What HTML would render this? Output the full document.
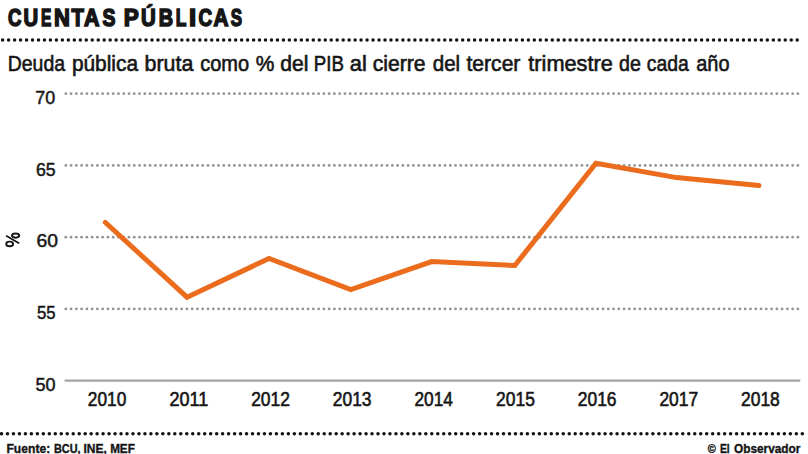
<!DOCTYPE html>
<html><head><meta charset="utf-8">
<style>
html,body{margin:0;padding:0;background:#fff;}
body{width:808px;height:454px;overflow:hidden;position:relative;}
svg{position:absolute;left:0;top:0;}
text{font-family:"Liberation Sans",sans-serif;fill:#161616;stroke:#161616;}
</style></head><body>
<svg width="808" height="454" viewBox="0 0 808 454">
<g fill="#121212"><circle cx="2.64" cy="39.9" r="1.75"/><circle cx="8.61" cy="39.9" r="1.75"/><circle cx="14.59" cy="39.9" r="1.75"/><circle cx="20.56" cy="39.9" r="1.75"/><circle cx="26.54" cy="39.9" r="1.75"/><circle cx="32.51" cy="39.9" r="1.75"/><circle cx="38.48" cy="39.9" r="1.75"/><circle cx="44.46" cy="39.9" r="1.75"/><circle cx="50.43" cy="39.9" r="1.75"/><circle cx="56.41" cy="39.9" r="1.75"/><circle cx="62.38" cy="39.9" r="1.75"/><circle cx="68.36" cy="39.9" r="1.75"/><circle cx="74.33" cy="39.9" r="1.75"/><circle cx="80.30" cy="39.9" r="1.75"/><circle cx="86.28" cy="39.9" r="1.75"/><circle cx="92.25" cy="39.9" r="1.75"/><circle cx="98.23" cy="39.9" r="1.75"/><circle cx="104.20" cy="39.9" r="1.75"/><circle cx="110.17" cy="39.9" r="1.75"/><circle cx="116.15" cy="39.9" r="1.75"/><circle cx="122.12" cy="39.9" r="1.75"/><circle cx="128.10" cy="39.9" r="1.75"/><circle cx="134.07" cy="39.9" r="1.75"/><circle cx="140.05" cy="39.9" r="1.75"/><circle cx="146.02" cy="39.9" r="1.75"/><circle cx="151.99" cy="39.9" r="1.75"/><circle cx="157.97" cy="39.9" r="1.75"/><circle cx="163.94" cy="39.9" r="1.75"/><circle cx="169.92" cy="39.9" r="1.75"/><circle cx="175.89" cy="39.9" r="1.75"/><circle cx="181.86" cy="39.9" r="1.75"/><circle cx="187.84" cy="39.9" r="1.75"/><circle cx="193.81" cy="39.9" r="1.75"/><circle cx="199.79" cy="39.9" r="1.75"/><circle cx="205.76" cy="39.9" r="1.75"/><circle cx="211.73" cy="39.9" r="1.75"/><circle cx="217.71" cy="39.9" r="1.75"/><circle cx="223.68" cy="39.9" r="1.75"/><circle cx="229.66" cy="39.9" r="1.75"/><circle cx="235.63" cy="39.9" r="1.75"/><circle cx="241.61" cy="39.9" r="1.75"/><circle cx="247.58" cy="39.9" r="1.75"/><circle cx="253.55" cy="39.9" r="1.75"/><circle cx="259.53" cy="39.9" r="1.75"/><circle cx="265.50" cy="39.9" r="1.75"/><circle cx="271.48" cy="39.9" r="1.75"/><circle cx="277.45" cy="39.9" r="1.75"/><circle cx="283.42" cy="39.9" r="1.75"/><circle cx="289.40" cy="39.9" r="1.75"/><circle cx="295.37" cy="39.9" r="1.75"/><circle cx="301.35" cy="39.9" r="1.75"/><circle cx="307.32" cy="39.9" r="1.75"/><circle cx="313.30" cy="39.9" r="1.75"/><circle cx="319.27" cy="39.9" r="1.75"/><circle cx="325.24" cy="39.9" r="1.75"/><circle cx="331.22" cy="39.9" r="1.75"/><circle cx="337.19" cy="39.9" r="1.75"/><circle cx="343.17" cy="39.9" r="1.75"/><circle cx="349.14" cy="39.9" r="1.75"/><circle cx="355.11" cy="39.9" r="1.75"/><circle cx="361.09" cy="39.9" r="1.75"/><circle cx="367.06" cy="39.9" r="1.75"/><circle cx="373.04" cy="39.9" r="1.75"/><circle cx="379.01" cy="39.9" r="1.75"/><circle cx="384.98" cy="39.9" r="1.75"/><circle cx="390.96" cy="39.9" r="1.75"/><circle cx="396.93" cy="39.9" r="1.75"/><circle cx="402.91" cy="39.9" r="1.75"/><circle cx="408.88" cy="39.9" r="1.75"/><circle cx="414.86" cy="39.9" r="1.75"/><circle cx="420.83" cy="39.9" r="1.75"/><circle cx="426.80" cy="39.9" r="1.75"/><circle cx="432.78" cy="39.9" r="1.75"/><circle cx="438.75" cy="39.9" r="1.75"/><circle cx="444.73" cy="39.9" r="1.75"/><circle cx="450.70" cy="39.9" r="1.75"/><circle cx="456.67" cy="39.9" r="1.75"/><circle cx="462.65" cy="39.9" r="1.75"/><circle cx="468.62" cy="39.9" r="1.75"/><circle cx="474.60" cy="39.9" r="1.75"/><circle cx="480.57" cy="39.9" r="1.75"/><circle cx="486.54" cy="39.9" r="1.75"/><circle cx="492.52" cy="39.9" r="1.75"/><circle cx="498.49" cy="39.9" r="1.75"/><circle cx="504.47" cy="39.9" r="1.75"/><circle cx="510.44" cy="39.9" r="1.75"/><circle cx="516.42" cy="39.9" r="1.75"/><circle cx="522.39" cy="39.9" r="1.75"/><circle cx="528.36" cy="39.9" r="1.75"/><circle cx="534.34" cy="39.9" r="1.75"/><circle cx="540.31" cy="39.9" r="1.75"/><circle cx="546.29" cy="39.9" r="1.75"/><circle cx="552.26" cy="39.9" r="1.75"/><circle cx="558.23" cy="39.9" r="1.75"/><circle cx="564.21" cy="39.9" r="1.75"/><circle cx="570.18" cy="39.9" r="1.75"/><circle cx="576.16" cy="39.9" r="1.75"/><circle cx="582.13" cy="39.9" r="1.75"/><circle cx="588.11" cy="39.9" r="1.75"/><circle cx="594.08" cy="39.9" r="1.75"/><circle cx="600.05" cy="39.9" r="1.75"/><circle cx="606.03" cy="39.9" r="1.75"/><circle cx="612.00" cy="39.9" r="1.75"/><circle cx="617.98" cy="39.9" r="1.75"/><circle cx="623.95" cy="39.9" r="1.75"/><circle cx="629.92" cy="39.9" r="1.75"/><circle cx="635.90" cy="39.9" r="1.75"/><circle cx="641.87" cy="39.9" r="1.75"/><circle cx="647.85" cy="39.9" r="1.75"/><circle cx="653.82" cy="39.9" r="1.75"/><circle cx="659.79" cy="39.9" r="1.75"/><circle cx="665.77" cy="39.9" r="1.75"/><circle cx="671.74" cy="39.9" r="1.75"/><circle cx="677.72" cy="39.9" r="1.75"/><circle cx="683.69" cy="39.9" r="1.75"/><circle cx="689.67" cy="39.9" r="1.75"/><circle cx="695.64" cy="39.9" r="1.75"/><circle cx="701.61" cy="39.9" r="1.75"/><circle cx="707.59" cy="39.9" r="1.75"/><circle cx="713.56" cy="39.9" r="1.75"/><circle cx="719.54" cy="39.9" r="1.75"/><circle cx="725.51" cy="39.9" r="1.75"/><circle cx="731.48" cy="39.9" r="1.75"/><circle cx="737.46" cy="39.9" r="1.75"/><circle cx="743.43" cy="39.9" r="1.75"/><circle cx="749.41" cy="39.9" r="1.75"/><circle cx="755.38" cy="39.9" r="1.75"/><circle cx="761.36" cy="39.9" r="1.75"/><circle cx="767.33" cy="39.9" r="1.75"/><circle cx="773.30" cy="39.9" r="1.75"/><circle cx="779.28" cy="39.9" r="1.75"/><circle cx="785.25" cy="39.9" r="1.75"/><circle cx="791.23" cy="39.9" r="1.75"/><circle cx="797.20" cy="39.9" r="1.75"/><circle cx="1.50" cy="433.7" r="1.75"/><circle cx="7.48" cy="433.7" r="1.75"/><circle cx="13.45" cy="433.7" r="1.75"/><circle cx="19.43" cy="433.7" r="1.75"/><circle cx="25.40" cy="433.7" r="1.75"/><circle cx="31.38" cy="433.7" r="1.75"/><circle cx="37.36" cy="433.7" r="1.75"/><circle cx="43.33" cy="433.7" r="1.75"/><circle cx="49.31" cy="433.7" r="1.75"/><circle cx="55.29" cy="433.7" r="1.75"/><circle cx="61.26" cy="433.7" r="1.75"/><circle cx="67.24" cy="433.7" r="1.75"/><circle cx="73.21" cy="433.7" r="1.75"/><circle cx="79.19" cy="433.7" r="1.75"/><circle cx="85.17" cy="433.7" r="1.75"/><circle cx="91.14" cy="433.7" r="1.75"/><circle cx="97.12" cy="433.7" r="1.75"/><circle cx="103.09" cy="433.7" r="1.75"/><circle cx="109.07" cy="433.7" r="1.75"/><circle cx="115.05" cy="433.7" r="1.75"/><circle cx="121.02" cy="433.7" r="1.75"/><circle cx="127.00" cy="433.7" r="1.75"/><circle cx="132.97" cy="433.7" r="1.75"/><circle cx="138.95" cy="433.7" r="1.75"/><circle cx="144.93" cy="433.7" r="1.75"/><circle cx="150.90" cy="433.7" r="1.75"/><circle cx="156.88" cy="433.7" r="1.75"/><circle cx="162.86" cy="433.7" r="1.75"/><circle cx="168.83" cy="433.7" r="1.75"/><circle cx="174.81" cy="433.7" r="1.75"/><circle cx="180.78" cy="433.7" r="1.75"/><circle cx="186.76" cy="433.7" r="1.75"/><circle cx="192.74" cy="433.7" r="1.75"/><circle cx="198.71" cy="433.7" r="1.75"/><circle cx="204.69" cy="433.7" r="1.75"/><circle cx="210.66" cy="433.7" r="1.75"/><circle cx="216.64" cy="433.7" r="1.75"/><circle cx="222.62" cy="433.7" r="1.75"/><circle cx="228.59" cy="433.7" r="1.75"/><circle cx="234.57" cy="433.7" r="1.75"/><circle cx="240.54" cy="433.7" r="1.75"/><circle cx="246.52" cy="433.7" r="1.75"/><circle cx="252.50" cy="433.7" r="1.75"/><circle cx="258.47" cy="433.7" r="1.75"/><circle cx="264.45" cy="433.7" r="1.75"/><circle cx="270.43" cy="433.7" r="1.75"/><circle cx="276.40" cy="433.7" r="1.75"/><circle cx="282.38" cy="433.7" r="1.75"/><circle cx="288.35" cy="433.7" r="1.75"/><circle cx="294.33" cy="433.7" r="1.75"/><circle cx="300.31" cy="433.7" r="1.75"/><circle cx="306.28" cy="433.7" r="1.75"/><circle cx="312.26" cy="433.7" r="1.75"/><circle cx="318.23" cy="433.7" r="1.75"/><circle cx="324.21" cy="433.7" r="1.75"/><circle cx="330.19" cy="433.7" r="1.75"/><circle cx="336.16" cy="433.7" r="1.75"/><circle cx="342.14" cy="433.7" r="1.75"/><circle cx="348.11" cy="433.7" r="1.75"/><circle cx="354.09" cy="433.7" r="1.75"/><circle cx="360.07" cy="433.7" r="1.75"/><circle cx="366.04" cy="433.7" r="1.75"/><circle cx="372.02" cy="433.7" r="1.75"/><circle cx="378.00" cy="433.7" r="1.75"/><circle cx="383.97" cy="433.7" r="1.75"/><circle cx="389.95" cy="433.7" r="1.75"/><circle cx="395.92" cy="433.7" r="1.75"/><circle cx="401.90" cy="433.7" r="1.75"/><circle cx="407.88" cy="433.7" r="1.75"/><circle cx="413.85" cy="433.7" r="1.75"/><circle cx="419.83" cy="433.7" r="1.75"/><circle cx="425.80" cy="433.7" r="1.75"/><circle cx="431.78" cy="433.7" r="1.75"/><circle cx="437.76" cy="433.7" r="1.75"/><circle cx="443.73" cy="433.7" r="1.75"/><circle cx="449.71" cy="433.7" r="1.75"/><circle cx="455.69" cy="433.7" r="1.75"/><circle cx="461.66" cy="433.7" r="1.75"/><circle cx="467.64" cy="433.7" r="1.75"/><circle cx="473.61" cy="433.7" r="1.75"/><circle cx="479.59" cy="433.7" r="1.75"/><circle cx="485.57" cy="433.7" r="1.75"/><circle cx="491.54" cy="433.7" r="1.75"/><circle cx="497.52" cy="433.7" r="1.75"/><circle cx="503.49" cy="433.7" r="1.75"/><circle cx="509.47" cy="433.7" r="1.75"/><circle cx="515.45" cy="433.7" r="1.75"/><circle cx="521.42" cy="433.7" r="1.75"/><circle cx="527.40" cy="433.7" r="1.75"/><circle cx="533.37" cy="433.7" r="1.75"/><circle cx="539.35" cy="433.7" r="1.75"/><circle cx="545.33" cy="433.7" r="1.75"/><circle cx="551.30" cy="433.7" r="1.75"/><circle cx="557.28" cy="433.7" r="1.75"/><circle cx="563.26" cy="433.7" r="1.75"/><circle cx="569.23" cy="433.7" r="1.75"/><circle cx="575.21" cy="433.7" r="1.75"/><circle cx="581.18" cy="433.7" r="1.75"/><circle cx="587.16" cy="433.7" r="1.75"/><circle cx="593.14" cy="433.7" r="1.75"/><circle cx="599.11" cy="433.7" r="1.75"/><circle cx="605.09" cy="433.7" r="1.75"/><circle cx="611.06" cy="433.7" r="1.75"/><circle cx="617.04" cy="433.7" r="1.75"/><circle cx="623.02" cy="433.7" r="1.75"/><circle cx="628.99" cy="433.7" r="1.75"/><circle cx="634.97" cy="433.7" r="1.75"/><circle cx="640.94" cy="433.7" r="1.75"/><circle cx="646.92" cy="433.7" r="1.75"/><circle cx="652.90" cy="433.7" r="1.75"/><circle cx="658.87" cy="433.7" r="1.75"/><circle cx="664.85" cy="433.7" r="1.75"/><circle cx="670.83" cy="433.7" r="1.75"/><circle cx="676.80" cy="433.7" r="1.75"/><circle cx="682.78" cy="433.7" r="1.75"/><circle cx="688.75" cy="433.7" r="1.75"/><circle cx="694.73" cy="433.7" r="1.75"/><circle cx="700.71" cy="433.7" r="1.75"/><circle cx="706.68" cy="433.7" r="1.75"/><circle cx="712.66" cy="433.7" r="1.75"/><circle cx="718.63" cy="433.7" r="1.75"/><circle cx="724.61" cy="433.7" r="1.75"/><circle cx="730.59" cy="433.7" r="1.75"/><circle cx="736.56" cy="433.7" r="1.75"/><circle cx="742.54" cy="433.7" r="1.75"/><circle cx="748.51" cy="433.7" r="1.75"/><circle cx="754.49" cy="433.7" r="1.75"/><circle cx="760.47" cy="433.7" r="1.75"/><circle cx="766.44" cy="433.7" r="1.75"/><circle cx="772.42" cy="433.7" r="1.75"/><circle cx="778.40" cy="433.7" r="1.75"/><circle cx="784.37" cy="433.7" r="1.75"/><circle cx="790.35" cy="433.7" r="1.75"/><circle cx="796.32" cy="433.7" r="1.75"/><circle cx="802.30" cy="433.7" r="1.75"/></g>
<g fill="#929292"><circle cx="65.80" cy="93.65" r="1.35"/><circle cx="71.07" cy="93.65" r="1.35"/><circle cx="76.33" cy="93.65" r="1.35"/><circle cx="81.60" cy="93.65" r="1.35"/><circle cx="86.87" cy="93.65" r="1.35"/><circle cx="92.13" cy="93.65" r="1.35"/><circle cx="97.40" cy="93.65" r="1.35"/><circle cx="102.67" cy="93.65" r="1.35"/><circle cx="107.94" cy="93.65" r="1.35"/><circle cx="113.20" cy="93.65" r="1.35"/><circle cx="118.47" cy="93.65" r="1.35"/><circle cx="123.74" cy="93.65" r="1.35"/><circle cx="129.00" cy="93.65" r="1.35"/><circle cx="134.27" cy="93.65" r="1.35"/><circle cx="139.54" cy="93.65" r="1.35"/><circle cx="144.80" cy="93.65" r="1.35"/><circle cx="150.07" cy="93.65" r="1.35"/><circle cx="155.34" cy="93.65" r="1.35"/><circle cx="160.60" cy="93.65" r="1.35"/><circle cx="165.87" cy="93.65" r="1.35"/><circle cx="171.14" cy="93.65" r="1.35"/><circle cx="176.41" cy="93.65" r="1.35"/><circle cx="181.67" cy="93.65" r="1.35"/><circle cx="186.94" cy="93.65" r="1.35"/><circle cx="192.21" cy="93.65" r="1.35"/><circle cx="197.47" cy="93.65" r="1.35"/><circle cx="202.74" cy="93.65" r="1.35"/><circle cx="208.01" cy="93.65" r="1.35"/><circle cx="213.27" cy="93.65" r="1.35"/><circle cx="218.54" cy="93.65" r="1.35"/><circle cx="223.81" cy="93.65" r="1.35"/><circle cx="229.07" cy="93.65" r="1.35"/><circle cx="234.34" cy="93.65" r="1.35"/><circle cx="239.61" cy="93.65" r="1.35"/><circle cx="244.87" cy="93.65" r="1.35"/><circle cx="250.14" cy="93.65" r="1.35"/><circle cx="255.41" cy="93.65" r="1.35"/><circle cx="260.68" cy="93.65" r="1.35"/><circle cx="265.94" cy="93.65" r="1.35"/><circle cx="271.21" cy="93.65" r="1.35"/><circle cx="276.48" cy="93.65" r="1.35"/><circle cx="281.74" cy="93.65" r="1.35"/><circle cx="287.01" cy="93.65" r="1.35"/><circle cx="292.28" cy="93.65" r="1.35"/><circle cx="297.54" cy="93.65" r="1.35"/><circle cx="302.81" cy="93.65" r="1.35"/><circle cx="308.08" cy="93.65" r="1.35"/><circle cx="313.34" cy="93.65" r="1.35"/><circle cx="318.61" cy="93.65" r="1.35"/><circle cx="323.88" cy="93.65" r="1.35"/><circle cx="329.15" cy="93.65" r="1.35"/><circle cx="334.41" cy="93.65" r="1.35"/><circle cx="339.68" cy="93.65" r="1.35"/><circle cx="344.95" cy="93.65" r="1.35"/><circle cx="350.21" cy="93.65" r="1.35"/><circle cx="355.48" cy="93.65" r="1.35"/><circle cx="360.75" cy="93.65" r="1.35"/><circle cx="366.01" cy="93.65" r="1.35"/><circle cx="371.28" cy="93.65" r="1.35"/><circle cx="376.55" cy="93.65" r="1.35"/><circle cx="381.81" cy="93.65" r="1.35"/><circle cx="387.08" cy="93.65" r="1.35"/><circle cx="392.35" cy="93.65" r="1.35"/><circle cx="397.62" cy="93.65" r="1.35"/><circle cx="402.88" cy="93.65" r="1.35"/><circle cx="408.15" cy="93.65" r="1.35"/><circle cx="413.42" cy="93.65" r="1.35"/><circle cx="418.68" cy="93.65" r="1.35"/><circle cx="423.95" cy="93.65" r="1.35"/><circle cx="429.22" cy="93.65" r="1.35"/><circle cx="434.48" cy="93.65" r="1.35"/><circle cx="439.75" cy="93.65" r="1.35"/><circle cx="445.02" cy="93.65" r="1.35"/><circle cx="450.28" cy="93.65" r="1.35"/><circle cx="455.55" cy="93.65" r="1.35"/><circle cx="460.82" cy="93.65" r="1.35"/><circle cx="466.08" cy="93.65" r="1.35"/><circle cx="471.35" cy="93.65" r="1.35"/><circle cx="476.62" cy="93.65" r="1.35"/><circle cx="481.89" cy="93.65" r="1.35"/><circle cx="487.15" cy="93.65" r="1.35"/><circle cx="492.42" cy="93.65" r="1.35"/><circle cx="497.69" cy="93.65" r="1.35"/><circle cx="502.95" cy="93.65" r="1.35"/><circle cx="508.22" cy="93.65" r="1.35"/><circle cx="513.49" cy="93.65" r="1.35"/><circle cx="518.75" cy="93.65" r="1.35"/><circle cx="524.02" cy="93.65" r="1.35"/><circle cx="529.29" cy="93.65" r="1.35"/><circle cx="534.55" cy="93.65" r="1.35"/><circle cx="539.82" cy="93.65" r="1.35"/><circle cx="545.09" cy="93.65" r="1.35"/><circle cx="550.36" cy="93.65" r="1.35"/><circle cx="555.62" cy="93.65" r="1.35"/><circle cx="560.89" cy="93.65" r="1.35"/><circle cx="566.16" cy="93.65" r="1.35"/><circle cx="571.42" cy="93.65" r="1.35"/><circle cx="576.69" cy="93.65" r="1.35"/><circle cx="581.96" cy="93.65" r="1.35"/><circle cx="587.22" cy="93.65" r="1.35"/><circle cx="592.49" cy="93.65" r="1.35"/><circle cx="597.76" cy="93.65" r="1.35"/><circle cx="603.02" cy="93.65" r="1.35"/><circle cx="608.29" cy="93.65" r="1.35"/><circle cx="613.56" cy="93.65" r="1.35"/><circle cx="618.83" cy="93.65" r="1.35"/><circle cx="624.09" cy="93.65" r="1.35"/><circle cx="629.36" cy="93.65" r="1.35"/><circle cx="634.63" cy="93.65" r="1.35"/><circle cx="639.89" cy="93.65" r="1.35"/><circle cx="645.16" cy="93.65" r="1.35"/><circle cx="650.43" cy="93.65" r="1.35"/><circle cx="655.69" cy="93.65" r="1.35"/><circle cx="660.96" cy="93.65" r="1.35"/><circle cx="666.23" cy="93.65" r="1.35"/><circle cx="671.49" cy="93.65" r="1.35"/><circle cx="676.76" cy="93.65" r="1.35"/><circle cx="682.03" cy="93.65" r="1.35"/><circle cx="687.29" cy="93.65" r="1.35"/><circle cx="692.56" cy="93.65" r="1.35"/><circle cx="697.83" cy="93.65" r="1.35"/><circle cx="703.10" cy="93.65" r="1.35"/><circle cx="708.36" cy="93.65" r="1.35"/><circle cx="713.63" cy="93.65" r="1.35"/><circle cx="718.90" cy="93.65" r="1.35"/><circle cx="724.16" cy="93.65" r="1.35"/><circle cx="729.43" cy="93.65" r="1.35"/><circle cx="734.70" cy="93.65" r="1.35"/><circle cx="739.96" cy="93.65" r="1.35"/><circle cx="745.23" cy="93.65" r="1.35"/><circle cx="750.50" cy="93.65" r="1.35"/><circle cx="755.76" cy="93.65" r="1.35"/><circle cx="761.03" cy="93.65" r="1.35"/><circle cx="766.30" cy="93.65" r="1.35"/><circle cx="771.57" cy="93.65" r="1.35"/><circle cx="776.83" cy="93.65" r="1.35"/><circle cx="782.10" cy="93.65" r="1.35"/><circle cx="787.37" cy="93.65" r="1.35"/><circle cx="792.63" cy="93.65" r="1.35"/><circle cx="797.90" cy="93.65" r="1.35"/><circle cx="65.80" cy="165.4" r="1.35"/><circle cx="71.07" cy="165.4" r="1.35"/><circle cx="76.33" cy="165.4" r="1.35"/><circle cx="81.60" cy="165.4" r="1.35"/><circle cx="86.87" cy="165.4" r="1.35"/><circle cx="92.13" cy="165.4" r="1.35"/><circle cx="97.40" cy="165.4" r="1.35"/><circle cx="102.67" cy="165.4" r="1.35"/><circle cx="107.94" cy="165.4" r="1.35"/><circle cx="113.20" cy="165.4" r="1.35"/><circle cx="118.47" cy="165.4" r="1.35"/><circle cx="123.74" cy="165.4" r="1.35"/><circle cx="129.00" cy="165.4" r="1.35"/><circle cx="134.27" cy="165.4" r="1.35"/><circle cx="139.54" cy="165.4" r="1.35"/><circle cx="144.80" cy="165.4" r="1.35"/><circle cx="150.07" cy="165.4" r="1.35"/><circle cx="155.34" cy="165.4" r="1.35"/><circle cx="160.60" cy="165.4" r="1.35"/><circle cx="165.87" cy="165.4" r="1.35"/><circle cx="171.14" cy="165.4" r="1.35"/><circle cx="176.41" cy="165.4" r="1.35"/><circle cx="181.67" cy="165.4" r="1.35"/><circle cx="186.94" cy="165.4" r="1.35"/><circle cx="192.21" cy="165.4" r="1.35"/><circle cx="197.47" cy="165.4" r="1.35"/><circle cx="202.74" cy="165.4" r="1.35"/><circle cx="208.01" cy="165.4" r="1.35"/><circle cx="213.27" cy="165.4" r="1.35"/><circle cx="218.54" cy="165.4" r="1.35"/><circle cx="223.81" cy="165.4" r="1.35"/><circle cx="229.07" cy="165.4" r="1.35"/><circle cx="234.34" cy="165.4" r="1.35"/><circle cx="239.61" cy="165.4" r="1.35"/><circle cx="244.87" cy="165.4" r="1.35"/><circle cx="250.14" cy="165.4" r="1.35"/><circle cx="255.41" cy="165.4" r="1.35"/><circle cx="260.68" cy="165.4" r="1.35"/><circle cx="265.94" cy="165.4" r="1.35"/><circle cx="271.21" cy="165.4" r="1.35"/><circle cx="276.48" cy="165.4" r="1.35"/><circle cx="281.74" cy="165.4" r="1.35"/><circle cx="287.01" cy="165.4" r="1.35"/><circle cx="292.28" cy="165.4" r="1.35"/><circle cx="297.54" cy="165.4" r="1.35"/><circle cx="302.81" cy="165.4" r="1.35"/><circle cx="308.08" cy="165.4" r="1.35"/><circle cx="313.34" cy="165.4" r="1.35"/><circle cx="318.61" cy="165.4" r="1.35"/><circle cx="323.88" cy="165.4" r="1.35"/><circle cx="329.15" cy="165.4" r="1.35"/><circle cx="334.41" cy="165.4" r="1.35"/><circle cx="339.68" cy="165.4" r="1.35"/><circle cx="344.95" cy="165.4" r="1.35"/><circle cx="350.21" cy="165.4" r="1.35"/><circle cx="355.48" cy="165.4" r="1.35"/><circle cx="360.75" cy="165.4" r="1.35"/><circle cx="366.01" cy="165.4" r="1.35"/><circle cx="371.28" cy="165.4" r="1.35"/><circle cx="376.55" cy="165.4" r="1.35"/><circle cx="381.81" cy="165.4" r="1.35"/><circle cx="387.08" cy="165.4" r="1.35"/><circle cx="392.35" cy="165.4" r="1.35"/><circle cx="397.62" cy="165.4" r="1.35"/><circle cx="402.88" cy="165.4" r="1.35"/><circle cx="408.15" cy="165.4" r="1.35"/><circle cx="413.42" cy="165.4" r="1.35"/><circle cx="418.68" cy="165.4" r="1.35"/><circle cx="423.95" cy="165.4" r="1.35"/><circle cx="429.22" cy="165.4" r="1.35"/><circle cx="434.48" cy="165.4" r="1.35"/><circle cx="439.75" cy="165.4" r="1.35"/><circle cx="445.02" cy="165.4" r="1.35"/><circle cx="450.28" cy="165.4" r="1.35"/><circle cx="455.55" cy="165.4" r="1.35"/><circle cx="460.82" cy="165.4" r="1.35"/><circle cx="466.08" cy="165.4" r="1.35"/><circle cx="471.35" cy="165.4" r="1.35"/><circle cx="476.62" cy="165.4" r="1.35"/><circle cx="481.89" cy="165.4" r="1.35"/><circle cx="487.15" cy="165.4" r="1.35"/><circle cx="492.42" cy="165.4" r="1.35"/><circle cx="497.69" cy="165.4" r="1.35"/><circle cx="502.95" cy="165.4" r="1.35"/><circle cx="508.22" cy="165.4" r="1.35"/><circle cx="513.49" cy="165.4" r="1.35"/><circle cx="518.75" cy="165.4" r="1.35"/><circle cx="524.02" cy="165.4" r="1.35"/><circle cx="529.29" cy="165.4" r="1.35"/><circle cx="534.55" cy="165.4" r="1.35"/><circle cx="539.82" cy="165.4" r="1.35"/><circle cx="545.09" cy="165.4" r="1.35"/><circle cx="550.36" cy="165.4" r="1.35"/><circle cx="555.62" cy="165.4" r="1.35"/><circle cx="560.89" cy="165.4" r="1.35"/><circle cx="566.16" cy="165.4" r="1.35"/><circle cx="571.42" cy="165.4" r="1.35"/><circle cx="576.69" cy="165.4" r="1.35"/><circle cx="581.96" cy="165.4" r="1.35"/><circle cx="587.22" cy="165.4" r="1.35"/><circle cx="592.49" cy="165.4" r="1.35"/><circle cx="597.76" cy="165.4" r="1.35"/><circle cx="603.02" cy="165.4" r="1.35"/><circle cx="608.29" cy="165.4" r="1.35"/><circle cx="613.56" cy="165.4" r="1.35"/><circle cx="618.83" cy="165.4" r="1.35"/><circle cx="624.09" cy="165.4" r="1.35"/><circle cx="629.36" cy="165.4" r="1.35"/><circle cx="634.63" cy="165.4" r="1.35"/><circle cx="639.89" cy="165.4" r="1.35"/><circle cx="645.16" cy="165.4" r="1.35"/><circle cx="650.43" cy="165.4" r="1.35"/><circle cx="655.69" cy="165.4" r="1.35"/><circle cx="660.96" cy="165.4" r="1.35"/><circle cx="666.23" cy="165.4" r="1.35"/><circle cx="671.49" cy="165.4" r="1.35"/><circle cx="676.76" cy="165.4" r="1.35"/><circle cx="682.03" cy="165.4" r="1.35"/><circle cx="687.29" cy="165.4" r="1.35"/><circle cx="692.56" cy="165.4" r="1.35"/><circle cx="697.83" cy="165.4" r="1.35"/><circle cx="703.10" cy="165.4" r="1.35"/><circle cx="708.36" cy="165.4" r="1.35"/><circle cx="713.63" cy="165.4" r="1.35"/><circle cx="718.90" cy="165.4" r="1.35"/><circle cx="724.16" cy="165.4" r="1.35"/><circle cx="729.43" cy="165.4" r="1.35"/><circle cx="734.70" cy="165.4" r="1.35"/><circle cx="739.96" cy="165.4" r="1.35"/><circle cx="745.23" cy="165.4" r="1.35"/><circle cx="750.50" cy="165.4" r="1.35"/><circle cx="755.76" cy="165.4" r="1.35"/><circle cx="761.03" cy="165.4" r="1.35"/><circle cx="766.30" cy="165.4" r="1.35"/><circle cx="771.57" cy="165.4" r="1.35"/><circle cx="776.83" cy="165.4" r="1.35"/><circle cx="782.10" cy="165.4" r="1.35"/><circle cx="787.37" cy="165.4" r="1.35"/><circle cx="792.63" cy="165.4" r="1.35"/><circle cx="797.90" cy="165.4" r="1.35"/><circle cx="65.80" cy="237.2" r="1.35"/><circle cx="71.07" cy="237.2" r="1.35"/><circle cx="76.33" cy="237.2" r="1.35"/><circle cx="81.60" cy="237.2" r="1.35"/><circle cx="86.87" cy="237.2" r="1.35"/><circle cx="92.13" cy="237.2" r="1.35"/><circle cx="97.40" cy="237.2" r="1.35"/><circle cx="102.67" cy="237.2" r="1.35"/><circle cx="107.94" cy="237.2" r="1.35"/><circle cx="113.20" cy="237.2" r="1.35"/><circle cx="118.47" cy="237.2" r="1.35"/><circle cx="123.74" cy="237.2" r="1.35"/><circle cx="129.00" cy="237.2" r="1.35"/><circle cx="134.27" cy="237.2" r="1.35"/><circle cx="139.54" cy="237.2" r="1.35"/><circle cx="144.80" cy="237.2" r="1.35"/><circle cx="150.07" cy="237.2" r="1.35"/><circle cx="155.34" cy="237.2" r="1.35"/><circle cx="160.60" cy="237.2" r="1.35"/><circle cx="165.87" cy="237.2" r="1.35"/><circle cx="171.14" cy="237.2" r="1.35"/><circle cx="176.41" cy="237.2" r="1.35"/><circle cx="181.67" cy="237.2" r="1.35"/><circle cx="186.94" cy="237.2" r="1.35"/><circle cx="192.21" cy="237.2" r="1.35"/><circle cx="197.47" cy="237.2" r="1.35"/><circle cx="202.74" cy="237.2" r="1.35"/><circle cx="208.01" cy="237.2" r="1.35"/><circle cx="213.27" cy="237.2" r="1.35"/><circle cx="218.54" cy="237.2" r="1.35"/><circle cx="223.81" cy="237.2" r="1.35"/><circle cx="229.07" cy="237.2" r="1.35"/><circle cx="234.34" cy="237.2" r="1.35"/><circle cx="239.61" cy="237.2" r="1.35"/><circle cx="244.87" cy="237.2" r="1.35"/><circle cx="250.14" cy="237.2" r="1.35"/><circle cx="255.41" cy="237.2" r="1.35"/><circle cx="260.68" cy="237.2" r="1.35"/><circle cx="265.94" cy="237.2" r="1.35"/><circle cx="271.21" cy="237.2" r="1.35"/><circle cx="276.48" cy="237.2" r="1.35"/><circle cx="281.74" cy="237.2" r="1.35"/><circle cx="287.01" cy="237.2" r="1.35"/><circle cx="292.28" cy="237.2" r="1.35"/><circle cx="297.54" cy="237.2" r="1.35"/><circle cx="302.81" cy="237.2" r="1.35"/><circle cx="308.08" cy="237.2" r="1.35"/><circle cx="313.34" cy="237.2" r="1.35"/><circle cx="318.61" cy="237.2" r="1.35"/><circle cx="323.88" cy="237.2" r="1.35"/><circle cx="329.15" cy="237.2" r="1.35"/><circle cx="334.41" cy="237.2" r="1.35"/><circle cx="339.68" cy="237.2" r="1.35"/><circle cx="344.95" cy="237.2" r="1.35"/><circle cx="350.21" cy="237.2" r="1.35"/><circle cx="355.48" cy="237.2" r="1.35"/><circle cx="360.75" cy="237.2" r="1.35"/><circle cx="366.01" cy="237.2" r="1.35"/><circle cx="371.28" cy="237.2" r="1.35"/><circle cx="376.55" cy="237.2" r="1.35"/><circle cx="381.81" cy="237.2" r="1.35"/><circle cx="387.08" cy="237.2" r="1.35"/><circle cx="392.35" cy="237.2" r="1.35"/><circle cx="397.62" cy="237.2" r="1.35"/><circle cx="402.88" cy="237.2" r="1.35"/><circle cx="408.15" cy="237.2" r="1.35"/><circle cx="413.42" cy="237.2" r="1.35"/><circle cx="418.68" cy="237.2" r="1.35"/><circle cx="423.95" cy="237.2" r="1.35"/><circle cx="429.22" cy="237.2" r="1.35"/><circle cx="434.48" cy="237.2" r="1.35"/><circle cx="439.75" cy="237.2" r="1.35"/><circle cx="445.02" cy="237.2" r="1.35"/><circle cx="450.28" cy="237.2" r="1.35"/><circle cx="455.55" cy="237.2" r="1.35"/><circle cx="460.82" cy="237.2" r="1.35"/><circle cx="466.08" cy="237.2" r="1.35"/><circle cx="471.35" cy="237.2" r="1.35"/><circle cx="476.62" cy="237.2" r="1.35"/><circle cx="481.89" cy="237.2" r="1.35"/><circle cx="487.15" cy="237.2" r="1.35"/><circle cx="492.42" cy="237.2" r="1.35"/><circle cx="497.69" cy="237.2" r="1.35"/><circle cx="502.95" cy="237.2" r="1.35"/><circle cx="508.22" cy="237.2" r="1.35"/><circle cx="513.49" cy="237.2" r="1.35"/><circle cx="518.75" cy="237.2" r="1.35"/><circle cx="524.02" cy="237.2" r="1.35"/><circle cx="529.29" cy="237.2" r="1.35"/><circle cx="534.55" cy="237.2" r="1.35"/><circle cx="539.82" cy="237.2" r="1.35"/><circle cx="545.09" cy="237.2" r="1.35"/><circle cx="550.36" cy="237.2" r="1.35"/><circle cx="555.62" cy="237.2" r="1.35"/><circle cx="560.89" cy="237.2" r="1.35"/><circle cx="566.16" cy="237.2" r="1.35"/><circle cx="571.42" cy="237.2" r="1.35"/><circle cx="576.69" cy="237.2" r="1.35"/><circle cx="581.96" cy="237.2" r="1.35"/><circle cx="587.22" cy="237.2" r="1.35"/><circle cx="592.49" cy="237.2" r="1.35"/><circle cx="597.76" cy="237.2" r="1.35"/><circle cx="603.02" cy="237.2" r="1.35"/><circle cx="608.29" cy="237.2" r="1.35"/><circle cx="613.56" cy="237.2" r="1.35"/><circle cx="618.83" cy="237.2" r="1.35"/><circle cx="624.09" cy="237.2" r="1.35"/><circle cx="629.36" cy="237.2" r="1.35"/><circle cx="634.63" cy="237.2" r="1.35"/><circle cx="639.89" cy="237.2" r="1.35"/><circle cx="645.16" cy="237.2" r="1.35"/><circle cx="650.43" cy="237.2" r="1.35"/><circle cx="655.69" cy="237.2" r="1.35"/><circle cx="660.96" cy="237.2" r="1.35"/><circle cx="666.23" cy="237.2" r="1.35"/><circle cx="671.49" cy="237.2" r="1.35"/><circle cx="676.76" cy="237.2" r="1.35"/><circle cx="682.03" cy="237.2" r="1.35"/><circle cx="687.29" cy="237.2" r="1.35"/><circle cx="692.56" cy="237.2" r="1.35"/><circle cx="697.83" cy="237.2" r="1.35"/><circle cx="703.10" cy="237.2" r="1.35"/><circle cx="708.36" cy="237.2" r="1.35"/><circle cx="713.63" cy="237.2" r="1.35"/><circle cx="718.90" cy="237.2" r="1.35"/><circle cx="724.16" cy="237.2" r="1.35"/><circle cx="729.43" cy="237.2" r="1.35"/><circle cx="734.70" cy="237.2" r="1.35"/><circle cx="739.96" cy="237.2" r="1.35"/><circle cx="745.23" cy="237.2" r="1.35"/><circle cx="750.50" cy="237.2" r="1.35"/><circle cx="755.76" cy="237.2" r="1.35"/><circle cx="761.03" cy="237.2" r="1.35"/><circle cx="766.30" cy="237.2" r="1.35"/><circle cx="771.57" cy="237.2" r="1.35"/><circle cx="776.83" cy="237.2" r="1.35"/><circle cx="782.10" cy="237.2" r="1.35"/><circle cx="787.37" cy="237.2" r="1.35"/><circle cx="792.63" cy="237.2" r="1.35"/><circle cx="797.90" cy="237.2" r="1.35"/><circle cx="65.80" cy="308.9" r="1.35"/><circle cx="71.07" cy="308.9" r="1.35"/><circle cx="76.33" cy="308.9" r="1.35"/><circle cx="81.60" cy="308.9" r="1.35"/><circle cx="86.87" cy="308.9" r="1.35"/><circle cx="92.13" cy="308.9" r="1.35"/><circle cx="97.40" cy="308.9" r="1.35"/><circle cx="102.67" cy="308.9" r="1.35"/><circle cx="107.94" cy="308.9" r="1.35"/><circle cx="113.20" cy="308.9" r="1.35"/><circle cx="118.47" cy="308.9" r="1.35"/><circle cx="123.74" cy="308.9" r="1.35"/><circle cx="129.00" cy="308.9" r="1.35"/><circle cx="134.27" cy="308.9" r="1.35"/><circle cx="139.54" cy="308.9" r="1.35"/><circle cx="144.80" cy="308.9" r="1.35"/><circle cx="150.07" cy="308.9" r="1.35"/><circle cx="155.34" cy="308.9" r="1.35"/><circle cx="160.60" cy="308.9" r="1.35"/><circle cx="165.87" cy="308.9" r="1.35"/><circle cx="171.14" cy="308.9" r="1.35"/><circle cx="176.41" cy="308.9" r="1.35"/><circle cx="181.67" cy="308.9" r="1.35"/><circle cx="186.94" cy="308.9" r="1.35"/><circle cx="192.21" cy="308.9" r="1.35"/><circle cx="197.47" cy="308.9" r="1.35"/><circle cx="202.74" cy="308.9" r="1.35"/><circle cx="208.01" cy="308.9" r="1.35"/><circle cx="213.27" cy="308.9" r="1.35"/><circle cx="218.54" cy="308.9" r="1.35"/><circle cx="223.81" cy="308.9" r="1.35"/><circle cx="229.07" cy="308.9" r="1.35"/><circle cx="234.34" cy="308.9" r="1.35"/><circle cx="239.61" cy="308.9" r="1.35"/><circle cx="244.87" cy="308.9" r="1.35"/><circle cx="250.14" cy="308.9" r="1.35"/><circle cx="255.41" cy="308.9" r="1.35"/><circle cx="260.68" cy="308.9" r="1.35"/><circle cx="265.94" cy="308.9" r="1.35"/><circle cx="271.21" cy="308.9" r="1.35"/><circle cx="276.48" cy="308.9" r="1.35"/><circle cx="281.74" cy="308.9" r="1.35"/><circle cx="287.01" cy="308.9" r="1.35"/><circle cx="292.28" cy="308.9" r="1.35"/><circle cx="297.54" cy="308.9" r="1.35"/><circle cx="302.81" cy="308.9" r="1.35"/><circle cx="308.08" cy="308.9" r="1.35"/><circle cx="313.34" cy="308.9" r="1.35"/><circle cx="318.61" cy="308.9" r="1.35"/><circle cx="323.88" cy="308.9" r="1.35"/><circle cx="329.15" cy="308.9" r="1.35"/><circle cx="334.41" cy="308.9" r="1.35"/><circle cx="339.68" cy="308.9" r="1.35"/><circle cx="344.95" cy="308.9" r="1.35"/><circle cx="350.21" cy="308.9" r="1.35"/><circle cx="355.48" cy="308.9" r="1.35"/><circle cx="360.75" cy="308.9" r="1.35"/><circle cx="366.01" cy="308.9" r="1.35"/><circle cx="371.28" cy="308.9" r="1.35"/><circle cx="376.55" cy="308.9" r="1.35"/><circle cx="381.81" cy="308.9" r="1.35"/><circle cx="387.08" cy="308.9" r="1.35"/><circle cx="392.35" cy="308.9" r="1.35"/><circle cx="397.62" cy="308.9" r="1.35"/><circle cx="402.88" cy="308.9" r="1.35"/><circle cx="408.15" cy="308.9" r="1.35"/><circle cx="413.42" cy="308.9" r="1.35"/><circle cx="418.68" cy="308.9" r="1.35"/><circle cx="423.95" cy="308.9" r="1.35"/><circle cx="429.22" cy="308.9" r="1.35"/><circle cx="434.48" cy="308.9" r="1.35"/><circle cx="439.75" cy="308.9" r="1.35"/><circle cx="445.02" cy="308.9" r="1.35"/><circle cx="450.28" cy="308.9" r="1.35"/><circle cx="455.55" cy="308.9" r="1.35"/><circle cx="460.82" cy="308.9" r="1.35"/><circle cx="466.08" cy="308.9" r="1.35"/><circle cx="471.35" cy="308.9" r="1.35"/><circle cx="476.62" cy="308.9" r="1.35"/><circle cx="481.89" cy="308.9" r="1.35"/><circle cx="487.15" cy="308.9" r="1.35"/><circle cx="492.42" cy="308.9" r="1.35"/><circle cx="497.69" cy="308.9" r="1.35"/><circle cx="502.95" cy="308.9" r="1.35"/><circle cx="508.22" cy="308.9" r="1.35"/><circle cx="513.49" cy="308.9" r="1.35"/><circle cx="518.75" cy="308.9" r="1.35"/><circle cx="524.02" cy="308.9" r="1.35"/><circle cx="529.29" cy="308.9" r="1.35"/><circle cx="534.55" cy="308.9" r="1.35"/><circle cx="539.82" cy="308.9" r="1.35"/><circle cx="545.09" cy="308.9" r="1.35"/><circle cx="550.36" cy="308.9" r="1.35"/><circle cx="555.62" cy="308.9" r="1.35"/><circle cx="560.89" cy="308.9" r="1.35"/><circle cx="566.16" cy="308.9" r="1.35"/><circle cx="571.42" cy="308.9" r="1.35"/><circle cx="576.69" cy="308.9" r="1.35"/><circle cx="581.96" cy="308.9" r="1.35"/><circle cx="587.22" cy="308.9" r="1.35"/><circle cx="592.49" cy="308.9" r="1.35"/><circle cx="597.76" cy="308.9" r="1.35"/><circle cx="603.02" cy="308.9" r="1.35"/><circle cx="608.29" cy="308.9" r="1.35"/><circle cx="613.56" cy="308.9" r="1.35"/><circle cx="618.83" cy="308.9" r="1.35"/><circle cx="624.09" cy="308.9" r="1.35"/><circle cx="629.36" cy="308.9" r="1.35"/><circle cx="634.63" cy="308.9" r="1.35"/><circle cx="639.89" cy="308.9" r="1.35"/><circle cx="645.16" cy="308.9" r="1.35"/><circle cx="650.43" cy="308.9" r="1.35"/><circle cx="655.69" cy="308.9" r="1.35"/><circle cx="660.96" cy="308.9" r="1.35"/><circle cx="666.23" cy="308.9" r="1.35"/><circle cx="671.49" cy="308.9" r="1.35"/><circle cx="676.76" cy="308.9" r="1.35"/><circle cx="682.03" cy="308.9" r="1.35"/><circle cx="687.29" cy="308.9" r="1.35"/><circle cx="692.56" cy="308.9" r="1.35"/><circle cx="697.83" cy="308.9" r="1.35"/><circle cx="703.10" cy="308.9" r="1.35"/><circle cx="708.36" cy="308.9" r="1.35"/><circle cx="713.63" cy="308.9" r="1.35"/><circle cx="718.90" cy="308.9" r="1.35"/><circle cx="724.16" cy="308.9" r="1.35"/><circle cx="729.43" cy="308.9" r="1.35"/><circle cx="734.70" cy="308.9" r="1.35"/><circle cx="739.96" cy="308.9" r="1.35"/><circle cx="745.23" cy="308.9" r="1.35"/><circle cx="750.50" cy="308.9" r="1.35"/><circle cx="755.76" cy="308.9" r="1.35"/><circle cx="761.03" cy="308.9" r="1.35"/><circle cx="766.30" cy="308.9" r="1.35"/><circle cx="771.57" cy="308.9" r="1.35"/><circle cx="776.83" cy="308.9" r="1.35"/><circle cx="782.10" cy="308.9" r="1.35"/><circle cx="787.37" cy="308.9" r="1.35"/><circle cx="792.63" cy="308.9" r="1.35"/><circle cx="797.90" cy="308.9" r="1.35"/></g>
<line x1="64.6" y1="380.6" x2="800.3" y2="380.6" stroke="#a4a4a4" stroke-width="2.3"/>
<g fill="none" stroke="#161616"><ellipse cx="15.6" cy="235.6" rx="3.6" ry="2.1" stroke-width="1.9"/><ellipse cx="9.65" cy="243.9" rx="3.4" ry="2.3" stroke-width="1.9"/><line x1="6.6" y1="236.1" x2="18.6" y2="243.1" stroke-width="1.7" stroke-linecap="round"/></g>
<polyline points="105.4,222.5 187,297.2 269,258.5 350.8,289.7 431.7,261.6 514.8,265.5 596,163.3 676.5,177.6 759,185.4" fill="none" stroke="#EA6C1C" stroke-width="5.0" stroke-linejoin="miter" stroke-linecap="round"/>
<text transform="translate(8.03 25.82) scale(0.7589 1)" font-size="24.49" font-weight="bold" stroke-width="1.6">C</text>
<text transform="translate(23.51 25.82) scale(0.8282 1)" font-size="24.49" font-weight="bold" stroke-width="1.6">U</text>
<text transform="translate(41.04 25.82) scale(0.6347 1)" font-size="24.49" font-weight="bold" stroke-width="1.6">E</text>
<text transform="translate(54.04 25.82) scale(0.8984 1)" font-size="24.49" font-weight="bold" stroke-width="1.6">N</text>
<text transform="translate(71.46 25.82) scale(0.8292 1)" font-size="24.49" font-weight="bold" stroke-width="1.6">T</text>
<text transform="translate(84.06 25.82) scale(0.8733 1)" font-size="24.49" font-weight="bold" stroke-width="1.6">A</text>
<text transform="translate(102.53 25.82) scale(0.7927 1)" font-size="24.49" font-weight="bold" stroke-width="1.6">S</text>
<text transform="translate(123.73 25.82) scale(0.9203 1)" font-size="24.49" font-weight="bold" stroke-width="1.6">P</text>
<text transform="translate(141.01 25.82) scale(0.8341 1)" font-size="24.49" font-weight="bold" stroke-width="1.6">Ú</text>
<text transform="translate(158.81 25.82) scale(0.8104 1)" font-size="24.49" font-weight="bold" stroke-width="1.6">B</text>
<text transform="translate(175.78 25.82) scale(0.7119 1)" font-size="24.49" font-weight="bold" stroke-width="1.6">L</text>
<text transform="translate(188.93 25.82) scale(1.0505 1)" font-size="24.49" font-weight="bold" stroke-width="1.6">I</text>
<text transform="translate(198.43 25.82) scale(0.7700 1)" font-size="24.49" font-weight="bold" stroke-width="1.6">C</text>
<text transform="translate(213.45 25.82) scale(0.8462 1)" font-size="24.49" font-weight="bold" stroke-width="1.6">A</text>
<text transform="translate(230.79 25.82) scale(0.6921 1)" font-size="24.49" font-weight="bold" stroke-width="1.6">S</text>
<text transform="translate(7.76 70.70) scale(0.9183 1)" font-size="21.19" stroke-width="0.6">Deuda</text>
<text transform="translate(71.89 70.70) scale(0.9855 1)" font-size="21.19" stroke-width="0.6">pública</text>
<text transform="translate(144.57 70.70) scale(1.0103 1)" font-size="21.19" stroke-width="0.6">bruta</text>
<text transform="translate(200.26 70.70) scale(0.9431 1)" font-size="21.19" stroke-width="0.6">como</text>
<text transform="translate(255.64 70.70) scale(0.9863 1)" font-size="21.19" stroke-width="0.6">%</text>
<text transform="translate(280.34 70.70) scale(0.9955 1)" font-size="21.19" stroke-width="0.6">del</text>
<text transform="translate(313.80 70.70) scale(0.8817 1)" font-size="21.19" stroke-width="0.6">PIB</text>
<text transform="translate(349.83 70.70) scale(1.0310 1)" font-size="21.19" stroke-width="0.6">al</text>
<text transform="translate(372.74 70.70) scale(0.9987 1)" font-size="21.19" stroke-width="0.6">cierre</text>
<text transform="translate(432.75 70.70) scale(0.9694 1)" font-size="21.19" stroke-width="0.6">del</text>
<text transform="translate(466.50 70.70) scale(0.9952 1)" font-size="21.19" stroke-width="0.6">tercer</text>
<text transform="translate(528.31 70.70) scale(1.0249 1)" font-size="21.19" stroke-width="0.6">trimestre</text>
<text transform="translate(618.96 70.70) scale(0.9272 1)" font-size="21.19" stroke-width="0.6">de</text>
<text transform="translate(646.77 70.70) scale(0.9147 1)" font-size="21.19" stroke-width="0.6">cada</text>
<text transform="translate(696.26 70.70) scale(0.9409 1)" font-size="21.19" stroke-width="0.6">año</text>
<text transform="translate(35.20 103.81) scale(0.9529 1)" font-size="18.78" stroke-width="0.5">70</text>
<text transform="translate(36.01 175.56) scale(0.9418 1)" font-size="18.78" stroke-width="0.5">65</text>
<text transform="translate(36.55 247.36) scale(1.0277 1)" font-size="18.78" stroke-width="0.5">60</text>
<text transform="translate(37.10 319.06) scale(0.8881 1)" font-size="18.78" stroke-width="0.5">55</text>
<text transform="translate(35.38 390.81) scale(0.9588 1)" font-size="18.78" stroke-width="0.5">50</text>
<text transform="translate(87.85 406.39) scale(0.8825 1)" font-size="19.62" stroke-width="0.6">2010</text>
<text transform="translate(169.48 406.39) scale(0.9204 1)" font-size="19.62" stroke-width="0.6">2011</text>
<text transform="translate(251.15 406.39) scale(0.8889 1)" font-size="19.62" stroke-width="0.6">2012</text>
<text transform="translate(332.80 406.39) scale(0.8889 1)" font-size="19.62" stroke-width="0.6">2013</text>
<text transform="translate(414.45 406.39) scale(0.8825 1)" font-size="19.62" stroke-width="0.6">2014</text>
<text transform="translate(496.10 406.39) scale(0.8889 1)" font-size="19.62" stroke-width="0.6">2015</text>
<text transform="translate(577.75 406.39) scale(0.8889 1)" font-size="19.62" stroke-width="0.6">2016</text>
<text transform="translate(659.40 406.39) scale(0.8889 1)" font-size="19.62" stroke-width="0.6">2017</text>
<text transform="translate(741.05 406.39) scale(0.8889 1)" font-size="19.62" stroke-width="0.6">2018</text>
<text transform="translate(6.48 452.80) scale(0.9160 1)" font-size="13.23" font-weight="bold" stroke-width="0.4">Fuente:</text>
<text transform="translate(53.98 452.80) scale(0.8226 1)" font-size="13.23" font-weight="bold" stroke-width="0.4">BCU,</text>
<text transform="translate(83.43 452.80) scale(0.9056 1)" font-size="13.23" font-weight="bold" stroke-width="0.4">INE,</text>
<text transform="translate(110.15 452.80) scale(0.8832 1)" font-size="13.23" font-weight="bold" stroke-width="0.4">MEF</text>
<text transform="translate(707.79 452.80) scale(0.8277 1)" font-size="13.23" font-weight="bold" stroke-width="0.4">©</text>
<text transform="translate(719.91 452.80) scale(0.7884 1)" font-size="13.23" font-weight="bold" stroke-width="0.4">El</text>
<text transform="translate(734.01 452.80) scale(0.8941 1)" font-size="13.23" font-weight="bold" stroke-width="0.4">Observador</text>
</svg>
</body></html>
